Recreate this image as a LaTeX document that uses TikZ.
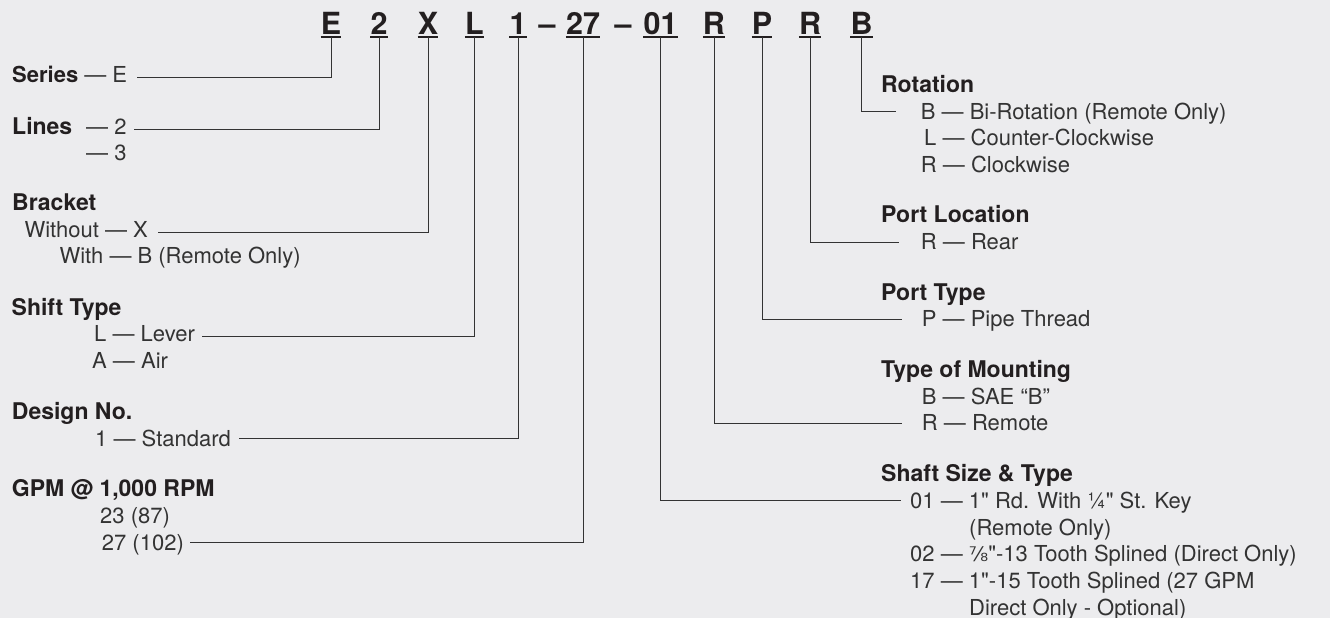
\documentclass[tikz,border=0pt]{standalone}
\usepackage{fontspec}
\setmainfont{TeX Gyre Heros}
\newfontfamily\fracfont{DejaVu Sans}
\newfontfamily\herosplain{TeX Gyre Heros}
\definecolor{bg}{HTML}{ECECEE}
\definecolor{ink}{HTML}{333333}
\definecolor{head}{HTML}{231F20}
\newcommand{\inch}{{\herosplain"}}
\begin{document}
\begin{tikzpicture}[x=1pt,y=-1pt,
  txt/.style={anchor=base west, inner sep=0pt, text=ink, font=\fontsize{22}{26}\selectfont},
  hd/.style={anchor=base west, inner sep=0pt, text=head, font=\fontsize{23}{27}\selectfont\bfseries},
  code/.style={anchor=base, inner sep=0pt, text=head, font=\fontsize{30.5}{34}\selectfont\bfseries},
  conn/.style={draw=ink, line width=0.9pt},
  uline/.style={draw=head, line width=1.4pt}]
\fill[bg] (0,0) rectangle (1330,618);
\useasboundingbox (0,0) rectangle (1330,618);

% code row
\node[code] (cE)  at (331,35) {E};
\node[code] (c2)  at (379,35) {2};
\node[code] (cX)  at (428,35) {X};
\node[code] (cL)  at (474.5,35) {L};
\node[code] (c1)  at (518,35) {1};
\node[code] (d1)  at (547,35) {–};
\node[code] (c27) at (583,35) {27};
\node[code] (d2)  at (623,35) {–};
\node[code] (c01) at (660.5,35) {01};
\node[code] (cR)  at (714,35) {R};
\node[code] (cP)  at (762,35) {P};
\node[code] (cRR) at (810,35) {R};
\node[code] (cB)  at (861.5,35) {B};
\foreach \n in {cE,c2,cX,cL,c1,c27,c01,cR,cP,cRR,cB}
  \draw[uline] ([yshift=-2pt]\n.base west) -- ([yshift=-2pt]\n.base east);

% left column
\node[txt] (series) at (12,82.7) {\textbf{\color{head}Series} — E};
\node[hd]  (linesh) at (12,134) {Lines};
\node[txt] (lines2) at (86,134) {— 2};
\node[txt] (lines3) at (86,160.3) {— 3};
\node[hd]  (brackh) at (12,210.7) {Bracket};
\node[txt] (without) at (24.3,237) {Without — X};
\node[txt] (with) at (59.3,263.3) {With — B (Remote Only)};
\node[hd]  (shifth) at (11.5,315) {Shift Type};
\node[txt] (lever) at (94,341.5) {L — Lever};
\node[txt] (air) at (92,368) {A — Air};
\node[hd]  (designh) at (11.7,419.3) {Design No.};
\node[txt] (standard) at (95,446) {1 — Standard};
\node[hd]  (gpmh) at (11.7,496.7) {GPM @ 1,000 RPM};
\node[txt] (g23) at (100,523.3) {23 (87)};
\node[txt] (g27) at (101.7,550) {27 (102)};

% right column
\node[hd]  (roth) at (881,92.3) {Rotation};
\node[txt] (rotB) at (920.7,119) {B — Bi-Rotation (Remote Only)};
\node[txt] (rotL) at (924,145.7) {L — Counter-Clockwise};
\node[txt] (rotR) at (920.7,172) {R — Clockwise};
\node[hd]  (loch) at (881,222) {Port Location};
\node[txt] (rear) at (920.7,249.5) {R — Rear};
\node[hd]  (typeh) at (881,300.7) {Port Type};
\node[txt] (pipe) at (921.7,326.7) {P — Pipe Thread};
\node[hd]  (mounth) at (881,377.7) {Type of Mounting};
\node[txt] (sae) at (921.7,404) {B — SAE “B”};
\node[txt] (remote) at (921.7,430.7) {R — Remote};
\node[hd]  (shafth) at (881,481.7) {Shaft Size \& Type};
\node[txt] (sh1) at (910,508.3) {01 — 1\inch{} Rd. With ¼\inch{} St. Key};
\node[txt] (sh1b) at (969,535) {(Remote Only)};
\node[txt] (sh2) at (910,561.7) {02 — {\fracfont\fontsize{20}{20}\selectfont ⅞}\inch-13 Tooth Splined (Direct Only)};
\node[txt] (sh3) at (910,588.3) {17 — 1\inch-15 Tooth Splined (27 GPM};
\node[txt] (sh3b) at (969,615) {Direct Only - Optional)};

% connectors
\draw[conn] ([yshift=-2pt]cE.base)  |- ([xshift=10pt,yshift=5.4pt]series.base east);
\draw[conn] ([yshift=-2pt]c2.base)  |- ([xshift=7pt,yshift=5pt]lines2.base east);
\draw[conn] ([yshift=-2pt]cX.base)  |- ([xshift=10pt,yshift=4.3pt]without.base east);
\draw[conn] ([yshift=-2pt]cL.base)  |- ([xshift=6.5pt,yshift=4.8pt]lever.base east);
\draw[conn] ([yshift=-2pt]c1.base)  |- ([xshift=8pt,yshift=7.3pt]standard.base east);
\draw[conn] ([yshift=-2pt]c27.base) |- ([xshift=6pt,yshift=7.7pt]g27.base east);
\draw[conn] ([yshift=-2pt]c01.base) |- ([xshift=-9.3pt,yshift=8.3pt]sh1.base west);
\draw[conn] ([yshift=-2pt]cR.base)  |- ([xshift=-19.7pt,yshift=7.4pt]remote.base west);
\draw[conn] ([yshift=-2pt]cP.base)  |- ([xshift=-20pt,yshift=7.4pt]pipe.base west);
\draw[conn] ([yshift=-2pt]cRR.base) |- ([xshift=-21.7pt,yshift=6.8pt]rear.base west);
\draw[conn] ([yshift=-2pt]cB.base)  |- ([xshift=-24.7pt,yshift=7.3pt]rotB.base west);
\end{tikzpicture}
\end{document}
